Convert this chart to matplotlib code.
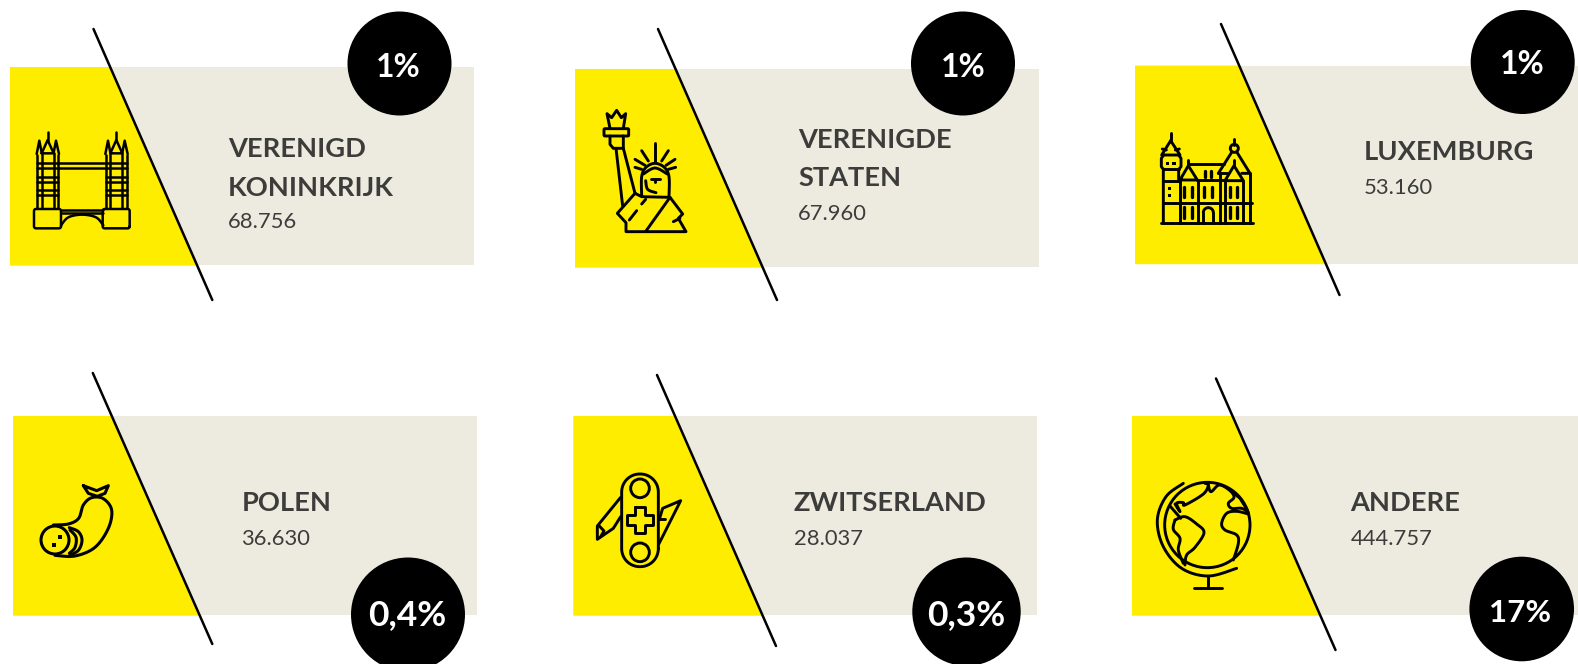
import numpy as np
import matplotlib
matplotlib.use("Agg")
import matplotlib.pyplot as plt
from matplotlib.patches import Rectangle, Circle, Polygon

# ---- data ----
names = [["VERENIGD", "KONINKRIJK"], ["VERENIGDE", "STATEN"], ["LUXEMBURG"],
         ["POLEN"], ["ZWITSERLAND"], ["ANDERE"]]
values = ["68.756", "67.960", "53.160", "36.630", "28.037", "444.757"]
percents = ["1%", "1%", "1%", "0,4%", "0,3%", "17%"]

# ---- layout (reference pixels) ----
panel_x0 = [10, 575, 1135, 13, 573.5, 1132]
panel_x1 = [474, 1039, 1600, 477, 1037, 1600]
panel_y0 = [67, 69, 65.5, 416, 416, 416]
panel_y1 = [265, 267, 263.5, 615, 615, 615]
diag_x0 = [93.5, 658, 1221, 92.8, 657, 1216]
diag_y0 = [29, 29, 24, 373, 375, 378.5]
diag_x1 = [212.3, 777, 1339.5, 212.3, 776, 1335.5]
diag_y1 = [300, 300, 295, 644, 646, 650]
circ_x = [399.5, 963, 1522.7, 408, 966.5, 1521.7]
circ_y = [63.5, 63.5, 62, 614.5, 611.7, 609]
circ_r = [52, 52, 52, 57, 54.2, 52.3]
pct_x = [398.5, 963, 1522, 407, 966, 1520]
pct_base = [77, 77, 74, 625, 625, 622]
pct_size = [23, 23, 23, 25.5, 25.5, 22.5]
text_x = [228, 798, 1364, 241.5, 794, 1350.5]
name_base = [157, 148, 160, 511, 511, 511]
value_base = [228.5, 219.5, 193.5, 545, 545, 545]
line_gap = 38.5

YEL, GREY, INK, DARK = "#FFED00", "#EDEBE0", "#000000", "#3C3C3B"
FONT = "Lato"

fig = plt.figure(figsize=(15.78, 6.64), dpi=100)
ax = fig.add_axes([0, 0, 1, 1])
ax.set_xlim(0, 1578)
ax.set_ylim(664, 0)
ax.axis("off")


def smooth(pts, n=14):
    p = np.array(pts, float)
    p = np.vstack([p[0], p, p[-1]])
    out = []
    for i in range(1, len(p) - 2):
        for t in np.linspace(0, 1, n, endpoint=False):
            a, b, c, d = p[i - 1], p[i], p[i + 1], p[i + 2]
            out.append(0.5 * (2 * b + (c - a) * t + (2 * a - 5 * b + 4 * c - d) * t ** 2
                              + (3 * b - a - 3 * c + d) * t ** 3))
    out.append(p[-2])
    return np.array(out)


class Icon:
    """Line icon drawn in the 3x crop coordinates of an origin."""
    def __init__(self, ox, oy, k=1 / 3, lw=2.0):
        self.ox, self.oy, self.k, self.lw = ox, oy, k, lw

    def line(self, pts, curved=False, lw=None):
        p = smooth(pts) if curved else np.array(pts, float)
        ax.plot(self.ox + p[:, 0] * self.k, self.oy + p[:, 1] * self.k, color=INK,
                lw=lw or self.lw, solid_capstyle="round", solid_joinstyle="round", zorder=5)

    def circle(self, cx, cy, r):
        ax.add_patch(Circle((self.ox + cx * self.k, self.oy + cy * self.k), r * self.k,
                            fc="none", ec=INK, lw=self.lw, zorder=5))

    def arc(self, cx, cy, r, a0, a1):
        t = np.radians(np.linspace(a0, a1, 80))
        self.line(np.c_[cx + r * np.cos(t), cy + r * np.sin(t)])

    def rrect(self, x0, y0, x1, y1, r):
        t = np.radians(np.linspace(0, 90, 16))
        c, s = np.cos(t), np.sin(t)
        pts = np.vstack([
            np.c_[x1 - r + r * c, y1 - r + r * s],
            np.c_[x0 + r - r * s, y1 - r + r * c],
            np.c_[x0 + r - r * c, y0 + r - r * s],
            np.c_[x1 - r + r * s, y0 + r - r * c],
        ])
        self.line(np.vstack([pts, pts[0]]))

    def dot(self, x, y, s):
        ax.add_patch(Rectangle((self.ox + (x - s / 2) * self.k, self.oy + (y - s / 2) * self.k),
                               s * self.k, s * self.k, fc=INK, ec="none", zorder=5))


def bridge():
    ic = Icon(0, 0, lw=1.8)
    for dx in (0, 206):
        ic.line([(112 + dx, 625), (112 + dx, 465)])
        ic.line([(125 + dx, 625), (125 + dx, 460)])
        ic.line([(161 + dx, 625), (161 + dx, 460)])
        ic.line([(175 + dx, 625), (175 + dx, 465)])
        ic.line([(125 + dx, 460), (143 + dx, 420), (161 + dx, 460), (125 + dx, 460)])
        ic.line([(143 + dx, 396), (143 + dx, 422)])
        ic.line([(110 + dx, 462), (118 + dx, 422), (125 + dx, 458)])
        ic.line([(161 + dx, 458), (168 + dx, 422), (177 + dx, 462)])
        for y in (530, 546, 570, 584):
            ic.line([(112 + dx, y), (175 + dx, y)])
        ic.rrect(102 + dx, 627, 183 + dx, 685, 6)
    for y in (489, 504):
        ic.line([(112, y), (381, y)])
    ic.line([(183, 630), (310, 630)])
    ic.line([(185, 640), (308, 640)])
    ic.line([(183, 676), (205, 652), (246, 644), (288, 652), (310, 676)], curved=True)


def statue():
    ic = Icon(560, 80, lw=2.1)
    ic.line([(150, 145), (141, 101), (155, 113), (170, 91), (184, 113), (197, 101), (190, 145)])
    ic.rrect(132, 146, 206, 168, 3)
    ic.line([(150, 168), (150, 193), (160, 205), (190, 205), (190, 168)])
    ic.line([(168, 205), (188, 378)])
    ic.line([(190, 205), (225, 340)])
    ic.line([(245, 347), (245, 290), (258, 262), (285, 250), (313, 262), (327, 290), (327, 350)], curved=True)
    ic.line([(250, 282), (285, 264), (322, 282)], curved=True)
    ic.line([(272, 297), (300, 297)])
    ic.line([(286, 297), (286, 305)])
    ic.line([(257, 302), (263, 328), (288, 338)], curved=True)
    for seg in [((285, 190), (285, 245)), ((245, 212), (265, 243)), ((325, 212), (305, 243)),
                ((225, 238), (255, 256)), ((345, 238), (318, 256)), ((225, 262), (245, 268)),
                ((347, 262), (325, 268))]:
        ic.line(seg)
    ic.line([(225, 340), (245, 350), (330, 352), (368, 402), (355, 415), (378, 455), (198, 455),
             (198, 428), (172, 400), (225, 340)])
    ic.line([(330, 352), (258, 453)])
    ic.line([(245, 372), (257, 358)])
    ic.line([(208, 420), (230, 392)])
    ic.line([(340, 425), (360, 415)])


def castle():
    ic = Icon(1130, 110, lw=2.1)
    ic.line([(92, 340), (368, 340)])
    ic.line([(122, 68), (122, 92)])
    ic.line([(122, 92), (150, 135), (95, 135), (122, 92)])
    ic.line([(97, 117), (109, 120)])
    ic.line([(148, 117), (136, 120)])
    ic.line([(101, 135), (94, 145), (94, 170), (100, 178), (100, 340)])
    ic.line([(146, 135), (153, 145), (153, 170), (146, 178), (146, 210)])
    ic.line([(100, 178), (146, 178)])
    ic.line([(100, 212), (148, 212)])
    ic.line([(100, 278), (365, 278)])
    for x, y in [(113, 160), (133, 160), (119, 235), (119, 256)]:
        ic.dot(x, y, 11)
    ic.line([(150, 210), (175, 167), (202, 210), (150, 210)])
    ic.line([(175, 150), (175, 167)])
    ic.line([(178, 162), (282, 162)])
    ic.line([(150, 210), (150, 340)])
    ic.line([(205, 210), (205, 340)])
    ic.line([(270, 190), (270, 340)])
    ic.line([(202, 210), (285, 210)])
    ic.line([(313, 88), (313, 104)])
    ic.circle(313, 115, 12)
    ic.line([(265, 190), (305, 127)])
    ic.line([(321, 127), (360, 190), (335, 190)])
    ic.line([(265, 190), (290, 190)])
    ic.line([(285, 212), (312, 167), (340, 212), (285, 212)])
    ic.line([(312, 150), (312, 167)])
    ic.line([(285, 212), (285, 340)])
    ic.line([(340, 212), (340, 340)])
    ic.line([(360, 190), (360, 340)])
    ic.arc(235, 308, 15, 180, 360)
    ic.line([(220, 308), (220, 340)])
    ic.line([(250, 308), (250, 340)])
    for x0, x1 in [(163, 185), (222, 245), (300, 322)]:
        ic.line([(x0, 230), (x0, 262)], lw=2.4)
        ic.line([(x1, 230), (x1, 262)], lw=2.4)
    for x0, x1 in [(163, 185), (300, 322)]:
        ic.line([(x0, 292), (x0, 325)], lw=2.4)
        ic.line([(x1, 292), (x1, 325)], lw=2.4)
    ic.line([(224, 184), (224, 200)], lw=2.4)
    ic.line([(244, 184), (244, 200)], lw=2.4)


def sausage():
    ic = Icon(20, 460, lw=2.2)
    ic.circle(105, 240, 42)
    ic.line([(148, 203), (175, 215), (186, 240), (176, 270), (150, 286)], curved=True)
    ic.line([(150, 210), (168, 232), (165, 262), (148, 280)], curved=True)
    ic.line([(100, 195), (145, 192), (176, 175), (190, 135), (215, 113), (250, 116), (275, 150),
             (265, 205), (225, 262), (165, 288), (105, 286)], curved=True)
    ic.line([(190, 77), (230, 92), (265, 77), (255, 100), (232, 109), (205, 100), (190, 77)])
    ic.dot(120, 230, 13)
    ic.dot(102, 255, 13)


def knife():
    ic = Icon(580, 460, lw=2.1)
    ic.rrect(125, 42, 235, 320, 54)
    ic.circle(180, 85, 28)
    ic.circle(180, 277, 28)
    a, b = 16, 38
    cx, cy = 180, 180
    ic.line([(cx - a, cy - b), (cx + a, cy - b), (cx + a, cy - a), (cx + b, cy - a), (cx + b, cy + a),
             (cx + a, cy + a), (cx + a, cy + b), (cx - a, cy + b), (cx - a, cy + a), (cx - b, cy + a),
             (cx - b, cy - a), (cx - a, cy - a), (cx - a, cy - b)])
    ic.line([(122, 112), (52, 198), (52, 238), (100, 205), (122, 170)])
    ic.line([(58, 198), (72, 213), (62, 230)])
    ic.line([(238, 178), (248, 145), (302, 122), (235, 255)])
    ic.line([(238, 178), (256, 178)])


def globe():
    ic = Icon(1140, 470, lw=2.1)
    ic.circle(202, 165, 128)
    ic.line([(130, 40), (78, 80), (52, 150), (70, 230), (125, 295), (205, 318), (290, 295)], curved=True)
    ic.line([(203, 320), (203, 355)])
    ic.line([(162, 355), (245, 355)])
    ic.line([(105, 150), (135, 140), (170, 162), (192, 188), (165, 232), (140, 255), (135, 285)], curved=True)
    ic.line([(105, 150), (100, 178), (120, 205), (115, 240), (130, 280)], curved=True)
    ic.line([(90, 108), (122, 145)])
    ic.line([(105, 102), (120, 125), (110, 100), (130, 98), (135, 105), (190, 72), (205, 45), (195, 40)], curved=True)
    ic.line([(205, 45), (213, 65), (238, 45), (270, 62), (282, 82), (265, 100), (275, 115), (305, 115), (325, 127)], curved=True)
    ic.line([(325, 132), (290, 124), (260, 130), (245, 160), (255, 180), (290, 195), (295, 220), (280, 270)], curved=True)
    ic.line([(270, 60), (300, 85), (322, 120)])


for i in range(6):
    x0, x1, y0, y1 = panel_x0[i], panel_x1[i], panel_y0[i], panel_y1[i]
    ax.add_patch(Rectangle((x0, y0), x1 - x0, y1 - y0, fc=GREY, ec="none", zorder=1))
    slope = (diag_x1[i] - diag_x0[i]) / (diag_y1[i] - diag_y0[i])
    xt = diag_x0[i] + (y0 - diag_y0[i]) * slope
    xb = diag_x0[i] + (y1 + 0.7 - diag_y0[i]) * slope
    ax.add_patch(Polygon([(x0, y0), (xt, y0), (xb, y1 + 0.7), (x0, y1 + 0.7)], fc=YEL, ec="none", zorder=2))
    ax.plot([diag_x0[i], diag_x1[i]], [diag_y0[i], diag_y1[i]], color=INK, lw=1.8,
            solid_capstyle="round", zorder=3)
    ax.add_patch(Circle((circ_x[i], circ_y[i]), circ_r[i], fc=INK, ec="none", zorder=4))
    ax.text(pct_x[i], pct_base[i], percents[i], color="white", fontsize=pct_size[i], fontweight="bold",
            family=FONT, ha="center", va="baseline", zorder=6)
    for j, s in enumerate(names[i]):
        ax.text(text_x[i], name_base[i] + j * line_gap, s, color=DARK, fontsize=19.6, fontweight="bold",
                family=FONT, ha="left", va="baseline", zorder=6)
    ax.text(text_x[i], value_base[i], values[i], color=DARK, fontsize=15.8, family=FONT,
            ha="left", va="baseline", zorder=6)

bridge(); statue(); castle(); sausage(); knife(); globe()

fig.savefig("out.png", dpi=100, facecolor="white")
